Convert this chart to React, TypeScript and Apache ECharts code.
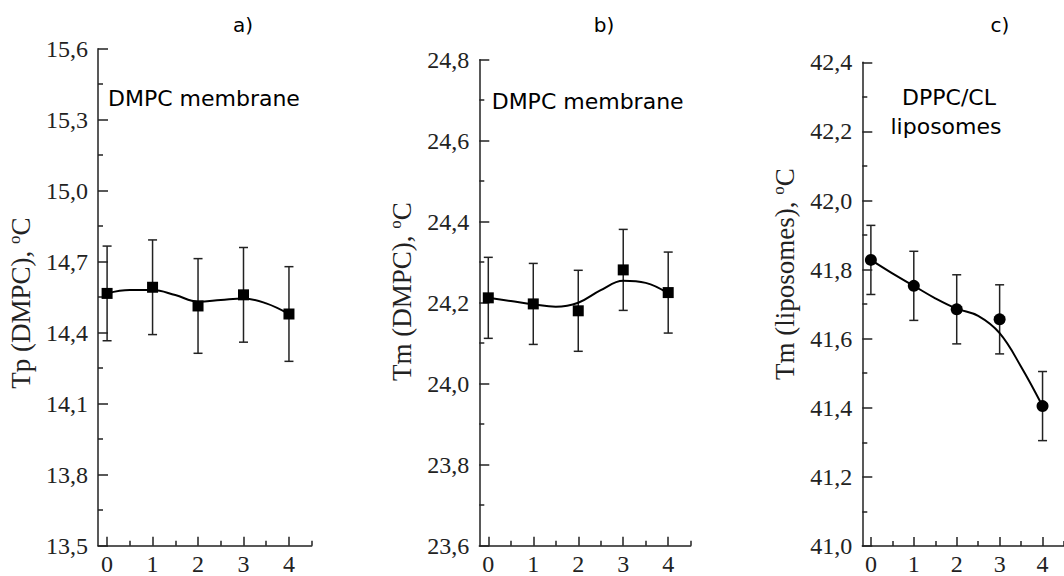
import React, { useEffect, useRef } from "react";
import * as echarts from "echarts";

const xTicks = [0, 1, 2, 3, 4];
const xMinorTicks = [0.5, 1.5, 2.5, 3.5, 4.5];
const pointX = [0, 1, 2, 3, 4];
const curveX = [0, 0.5, 1, 1.5, 2, 2.5, 3, 3.5, 4];

const aValues = [14.566, 14.592, 14.513, 14.56, 14.479];
const aErrors = [0.2, 0.2, 0.2, 0.2, 0.2];
const aCurve = [14.566, 14.58, 14.58, 14.559, 14.531, 14.538, 14.545, 14.524, 14.479];

const bValues = [24.212, 24.197, 24.18, 24.281, 24.225];
const bErrors = [0.1, 0.1, 0.1, 0.1, 0.1];
const bCurve = [24.212, 24.204, 24.196, 24.19, 24.2, 24.231, 24.254, 24.249, 24.223];

const cValues = [41.828, 41.753, 41.685, 41.656, 41.405];
const cErrors = [0.1, 0.1, 0.1, 0.1, 0.1];
const cCurve = [41.828, 41.789, 41.753, 41.717, 41.687, 41.666, 41.616, 41.519, 41.405];

const panelTitles = ["a)", "b)", "c)"];
const yNames = ["Tp (DMPC), ", "Tm (DMPC), ", "Tm (liposomes), "];
const yRanges = [
  [13.5, 15.6, 0.3],
  [23.6, 24.8, 0.2],
  [41.0, 42.4, 0.2],
];

const SERIF = "Liberation Serif";
const SANS = "'DejaVu Sans', 'Liberation Sans', Arial, sans-serif";

export default function App() {
  const ref = useRef<HTMLDivElement>(null);
  useEffect(() => {
    if (!ref.current) return;
    const chart = echarts.init(ref.current, null, { renderer: "svg" });

    const grids = [
      { left: 98, top: 48.7, width: 213.7, height: 497 },
      { left: 479.3, top: 59.7, width: 211.4, height: 486 },
      { left: 862.3, top: 62.3, width: 210.5, height: 483.7 },
    ];
    const namePads = [
      [0, 12, 0, 0],
      [0, 0, 0, 22],
      [0, 0, 0, 60],
    ];
    const tickRich = { t: { fontFamily: SERIF, fontSize: 24, color: "#222" } };

    const xAxes: any[] = [];
    const yAxes: any[] = [];
    for (let g = 0; g < 3; g++) {
      xAxes.push({
        type: "value",
        gridIndex: g,
        min: -0.2,
        max: 4.5,
        position: "bottom",
        axisLine: { onZero: false, lineStyle: { color: "#222", width: 1.5 } },
        axisTick: { inside: true, length: 9, customValues: xTicks, lineStyle: { color: "#222", width: 1.5 } },
        axisLabel: {
          customValues: xTicks,
          fontFamily: SERIF,
          fontSize: 24,
          color: "#222",
          margin: 6,
          formatter: (v: number) => "{t|" + String(v) + "}",
          rich: tickRich,
        },
        splitLine: { show: false },
      });
      xAxes.push({
        type: "value",
        gridIndex: g,
        min: -0.2,
        max: 4.5,
        position: "bottom",
        axisLine: { show: false, onZero: false },
        axisTick: { show: true, inside: true, length: 5, customValues: xMinorTicks, lineStyle: { color: "#222", width: 1.5 } },
        axisLabel: { show: false, customValues: xMinorTicks },
        splitLine: { show: false },
      });
      const [mn, mx, iv] = yRanges[g];
      yAxes.push({
        type: "value",
        gridIndex: g,
        min: mn,
        max: mx,
        interval: iv,
        axisLine: { show: true, onZero: false, lineStyle: { color: "#222", width: 1.5 } },
        axisTick: { show: true, inside: true, length: 10, lineStyle: { color: "#222", width: 1.5 } },
        minorTick: { show: true, splitNumber: 2, length: 5, lineStyle: { color: "#222", width: 1.5 } },
        splitLine: { show: false },
        axisLabel: {
          fontFamily: SERIF,
          fontSize: 24,
          color: "#222",
          margin: 10,
          formatter: (v: number) => "{t|" + v.toFixed(1).replace(".", ",") + "}",
          rich: tickRich,
        },
        name: "{a|" + yNames[g] + "}{s|o}{a|C}",
        nameLocation: "middle",
        nameRotate: 90,
        nameGap: 62,
        nameTextStyle: {
          fontFamily: SERIF,
          fontSize: 27,
          color: "#222",
          padding: namePads[g],
          rich: {
            a: { fontFamily: SERIF, fontSize: 27, color: "#222", lineHeight: 30 },
            s: { fontFamily: SERIF, fontSize: 17, color: "#222", lineHeight: 30, verticalAlign: "top" },
          },
        },
      });
    }

    const values = [aValues, bValues, cValues];
    const errors = [aErrors, bErrors, cErrors];
    const curves = [aCurve, bCurve, cCurve];
    const symbols = ["rect", "rect", "circle"];
    const sizes = [11, 11, 12];

    const series: any[] = [];
    for (let g = 0; g < 3; g++) {
      series.push({
        type: "custom",
        xAxisIndex: g * 2,
        yAxisIndex: g,
        z: 2,
        data: pointX.map((x, i) => [x, values[g][i] - errors[g][i], values[g][i] + errors[g][i]]),
        renderItem: (params: any, api: any) => {
          const x = api.value(0);
          const lo = api.coord([x, api.value(1)]);
          const hi = api.coord([x, api.value(2)]);
          const hw = 4.5;
          const st = { stroke: "#222", lineWidth: 1.5 };
          return {
            type: "group",
            children: [
              { type: "line", shape: { x1: lo[0], y1: lo[1], x2: hi[0], y2: hi[1] }, style: st },
              { type: "line", shape: { x1: hi[0] - hw, y1: hi[1], x2: hi[0] + hw, y2: hi[1] }, style: st },
              { type: "line", shape: { x1: lo[0] - hw, y1: lo[1], x2: lo[0] + hw, y2: lo[1] }, style: st },
            ],
          };
        },
      });
      series.push({
        type: "line",
        xAxisIndex: g * 2,
        yAxisIndex: g,
        z: 3,
        smooth: 0.4,
        showSymbol: false,
        symbol: "none",
        lineStyle: { color: "#000", width: 2 },
        data: curveX.map((x, i) => [x, curves[g][i]]),
      });
      series.push({
        type: "scatter",
        xAxisIndex: g * 2,
        yAxisIndex: g,
        z: 4,
        symbol: symbols[g],
        symbolSize: sizes[g],
        itemStyle: { color: "#000", opacity: 1 },
        data: pointX.map((x, i) => [x, values[g][i]]),
      });
    }

    const titleX = [243, 604, 1000];
    const graphic: any[] = panelTitles.map((t, i) => ({
      type: "text",
      x: titleX[i],
      y: 25,
      style: { text: t, font: "20px " + SANS, fill: "#000", align: "center", verticalAlign: "middle" },
    }));
    graphic.push(
      {
        type: "text",
        x: 108,
        y: 98,
        style: { text: "DMPC membrane", font: "22px " + SANS, fill: "#000", align: "left", verticalAlign: "middle" },
      },
      {
        type: "text",
        x: 491.7,
        y: 101,
        style: { text: "DMPC membrane", font: "22px " + SANS, fill: "#000", align: "left", verticalAlign: "middle" },
      },
      {
        type: "text",
        x: 949,
        y: 97,
        style: { text: "DPPC/CL", font: "22px " + SANS, fill: "#000", align: "center", verticalAlign: "middle" },
      },
      {
        type: "text",
        x: 946,
        y: 126,
        style: { text: "liposomes", font: "22px " + SANS, fill: "#000", align: "center", verticalAlign: "middle" },
      }
    );

    chart.setOption({
      animation: false,
      backgroundColor: "#ffffff",
      textStyle: { fontFamily: SERIF },
      grid: grids,
      xAxis: xAxes,
      yAxis: yAxes,
      series,
      graphic,
    });
    return () => chart.dispose();
  }, []);
  return (
    <div
      ref={ref}
      style={{ position: "absolute", left: 0, top: 0, width: 1064, height: 576, background: "#fff" }}
    />
  );
}
